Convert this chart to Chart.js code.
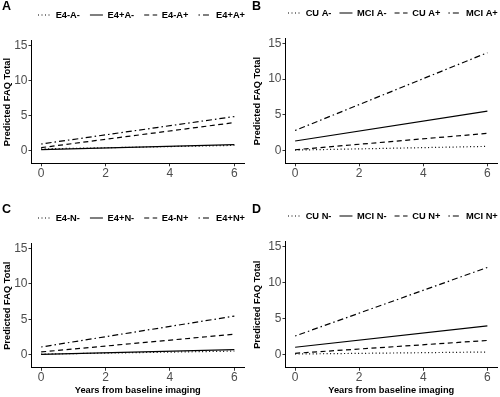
<!DOCTYPE html>
<html>
<head>
<meta charset="utf-8">
<script src="https://cdn.jsdelivr.net/npm/chart.js@4.4.0/dist/chart.umd.min.js"></script>
<style>
  html, body { margin: 0; padding: 0; background: #fff; }
  #grid { display: grid; grid-template-columns: 250px 250px; grid-template-rows: 203px 194px; width: 500px; height: 397px; }
  .panel { position: relative; }
</style>
</head>
<body>
<div id="grid">
  <div class="panel"><canvas id="chartA"></canvas></div>
  <div class="panel"><canvas id="chartB"></canvas></div>
  <div class="panel"><canvas id="chartC"></canvas></div>
  <div class="panel"><canvas id="chartD"></canvas></div>
</div>
<script>
const years = [0, 6];
const xTicks = [0, 2, 4, 6];
const yTicks = [0, 5, 10, 15];

const labelsA = ['E4-A-', 'E4+A-', 'E4-A+', 'E4+A+'];
const labelsB = ['CU A-', 'MCI A-', 'CU A+', 'MCI A+'];
const labelsC = ['E4-N-', 'E4+N-', 'E4-N+', 'E4+N+'];
const labelsD = ['CU N-', 'MCI N-', 'CU N+', 'MCI N+'];

// predicted FAQ total at year 0 and year 6, one pair per group
const valuesA = [[0.25, 0.75], [0.15, 0.86], [0.43, 4.0], [0.95, 4.86]];
const valuesB = [[0.05, 0.57], [1.33, 5.5], [0.1, 2.4], [2.8, 13.7]];
const valuesC = [[0.12, 0.54], [0.07, 0.74], [0.42, 2.92], [1.12, 5.47]];
const valuesD = [[0.1, 0.38], [1.04, 4.0], [0.2, 1.98], [2.6, 12.1]];

// dotted, solid, dashed, dotdash
const dashes = [[1, 2.5], [], [5, 3.5], [1.5, 3, 6, 3]];

Chart.defaults.font.family = '"Liberation Sans", Arial, sans-serif';
Chart.defaults.color = '#000';

function makePanel(id, letter, labels, values, cfg) {
  const datasets = labels.map((lab, i) => ({
    label: lab,
    data: years.map((yr, j) => ({ x: yr, y: values[i][j] })),
    borderColor: '#000',
    borderWidth: 1.2,
    borderDash: dashes[i],
    pointRadius: 0,
    fill: false,
    tension: 0
  }));

  // put the legend row up top, starting over the plot like the ggplot legend
  const legendPlace = {
    id: 'legendPlace',
    afterLayout(chart) {
      chart.legend.top = 0.35;
      chart.legend.left = cfg.legendLeft;
      chart.legend.right = 1000;
    }
  };

  new Chart(document.getElementById(id), {
    type: 'line',
    data: { datasets },
    options: {
      responsive: true,
      maintainAspectRatio: false,
      animation: false,
      layout: { padding: { left: 2, right: cfg.right, top: 0, bottom: cfg.bottom } },
      plugins: {
        title: {
          display: true, text: letter, align: 'start', color: '#000',
          font: { size: 12.5, weight: 'bold', lineHeight: 1 },
          padding: { top: 0, bottom: -1 }
        },
        legend: {
          position: 'top',
          align: 'start',
          labels: {
            usePointStyle: true,
            pointStyle: 'line',
            pointStyleWidth: 13,
            padding: cfg.legendGap,
            color: '#000',
            font: { size: 9.3, weight: 'bold' },
            generateLabels(chart) {
              const items = Chart.defaults.plugins.legend.labels.generateLabels(chart);
              items.forEach(it => {
                const ds = chart.data.datasets[it.datasetIndex];
                it.lineDash = ds.borderDash;
                it.lineWidth = ds.borderWidth;
                it.strokeStyle = '#000';
              });
              return items;
            }
          }
        },
        tooltip: { enabled: false }
      },
      scales: {
        x: {
          type: 'linear',
          min: -0.3,
          max: 6.3,
          afterBuildTicks: s => { s.ticks = xTicks.map(v => ({ value: v })); },
          ticks: { color: '#4d4d4d', font: { size: 12 }, padding: 0, maxRotation: 0 },
          grid: { drawOnChartArea: false, tickLength: 3, color: '#333' },
          border: { display: true, color: '#000', width: 1 },
          title: {
            display: cfg.xTitle,
            text: 'Years from baseline imaging',
            color: '#000',
            font: { size: 9.3, weight: 'bold' },
            padding: { top: 0, bottom: 0 }
          }
        },
        y: {
          min: -1.8,
          max: 15.65,
          afterBuildTicks: s => { s.ticks = yTicks.map(v => ({ value: v })); },
          afterFit: s => { s.width += cfg.yExtra; },
          ticks: { color: '#4d4d4d', font: { size: 12 }, padding: 1 },
          grid: { drawOnChartArea: false, tickLength: 3, color: '#333' },
          border: { display: true, color: '#000', width: 1 },
          title: {
            display: true,
            text: 'Predicted FAQ Total',
            color: '#000',
            font: { size: 9.3, weight: 'bold' },
            padding: { top: 0, bottom: 0 }
          }
        }
      }
    },
    plugins: [legendPlace]
  });
}

makePanel('chartA', 'A', labelsA, valuesA, { right: 6, bottom: 22.3, xTitle: false, yExtra: 0, legendLeft: 28, legendGap: 10 });
makePanel('chartB', 'B', labelsB, valuesB, { right: 3, bottom: 22.3, xTitle: false, yExtra: 4, legendLeft: 30, legendGap: 8 });
makePanel('chartC', 'C', labelsC, valuesC, { right: 6, bottom: 0.7, xTitle: true, yExtra: 0, legendLeft: 28, legendGap: 10 });
makePanel('chartD', 'D', labelsD, valuesD, { right: 3, bottom: 0.7, xTitle: true, yExtra: 4, legendLeft: 30, legendGap: 8 });
</script>
</body>
</html>
